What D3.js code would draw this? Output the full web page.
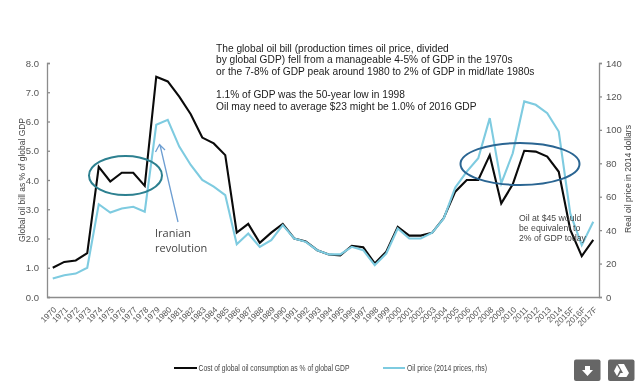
<!DOCTYPE html>
<html>
<head>
<meta charset="utf-8">
<script src="https://cdn.jsdelivr.net/npm/d3@7"></script>
<style>
  html, body { margin: 0; padding: 0; background: #fff; }
  svg { display: block; font-family: "Liberation Sans", Arial, sans-serif; filter: blur(0.45px); }
  .axis path, .axis line { stroke: #8c8c8c; stroke-width: 1.3; }
  .axis text { fill: #555; font-size: 9.5px; }
  .note { fill: #1c1c1c; font-size: 10.2px; }
  .small { fill: #444; font-size: 9px; }
</style>
</head>
<body>
<div id="vis"></div>
<script>
// chart data
const years = ['1970', '1971', '1972', '1973', '1974', '1975', '1976', '1977', '1978', '1979',
  '1980', '1981', '1982', '1983', '1984', '1985', '1986', '1987', '1988', '1989',
  '1990', '1991', '1992', '1993', '1994', '1995', '1996', '1997', '1998', '1999',
  '2000', '2001', '2002', '2003', '2004', '2005', '2006', '2007', '2008', '2009',
  '2010', '2011', '2012', '2013', '2014', '2015F', '2016F', '2017F'];
const oilBill = [1.0, 1.2, 1.25, 1.5, 4.45, 3.95, 4.25, 4.25, 3.8, 7.53,
  7.37, 6.85, 6.25, 5.45, 5.25, 4.85, 2.2, 2.5, 1.85, 2.2,
  2.5, 2.0, 1.9, 1.6, 1.45, 1.42, 1.75, 1.7, 1.15, 1.55,
  2.4, 2.1, 2.1, 2.2, 2.7, 3.6, 4.0, 4.0, 4.85, 3.2,
  3.85, 5.0, 4.97, 4.8, 4.28, 2.3, 1.4, 1.95];
const oilPrice = [11, 13, 14, 17.5, 55.5, 50.5, 53, 54, 51, 103,
  106, 90, 79, 70, 66, 61, 31.5, 38, 30, 34,
  43, 35, 33, 28, 25.5, 25.5, 30, 28, 19, 26,
  41, 35, 35, 38.5, 47, 65.5, 75, 83, 107, 68,
  86, 117, 115, 110, 99, 50, 31, 45];
const leftTicks = [0, 1, 2, 3, 4, 5, 6, 7, 8];
const rightTicks = [0, 20, 40, 60, 80, 100, 120, 140];
const noteLines = [
  'The global oil bill (production times oil price, divided',
  'by global GDP) fell from a manageable 4-5% of GDP in the 1970s',
  'or the 7-8% of GDP peak around 1980 to 2% of GDP in mid/late 1980s',
  '',
  '1.1% of GDP was the 50-year low in 1998',
  'Oil may need to average $23 might be 1.0% of 2016 GDP'
];
const sideNote = ['Oil at $45 would', 'be equivalent to', '2% of GDP today'];

const width = 639;
const height = 389;
const margin = {top: 63, right: 40, bottom: 92, left: 47};

const svg = d3.select('#vis')
  .append('svg')
  .attr('width', width)
  .attr('height', height);

const x = d3.scaleBand()
  .domain(years)
  .range([margin.left, width - margin.right]);
const yLeft = d3.scaleLinear()
  .domain([0, 8])
  .range([height - margin.bottom, margin.top]);
const yRight = d3.scaleLinear()
  .domain([0, 140])
  .range([height - margin.bottom, margin.top]);

// axes
svg.append('g')
  .attr('class', 'axis')
  .attr('transform', 'translate(' + margin.left + ',0)')
  .call(d3.axisLeft(yLeft).tickValues(leftTicks).tickFormat(d3.format('.1f')).tickSize(-3).tickPadding(8));

svg.append('g')
  .attr('class', 'axis')
  .attr('transform', 'translate(' + (width - margin.right) + ',0)')
  .call(d3.axisRight(yRight).tickValues(rightTicks).tickSize(3).tickPadding(4));

const xAxis = svg.append('g')
  .attr('class', 'axis')
  .attr('transform', 'translate(0,' + (height - margin.bottom) + ')')
  .call(d3.axisBottom(x).tickSize(0).tickSizeOuter(0));
xAxis.selectAll('text')
  .attr('transform', 'translate(-2,7)rotate(-45)')
  .style('text-anchor', 'end')
  .style('font-size', '8.2px');

// axis titles
svg.append('text')
  .attr('class', 'small')
  .attr('transform', 'translate(25,180)rotate(-90)')
  .attr('text-anchor', 'middle')
  .attr('textLength', 124)
  .attr('lengthAdjust', 'spacingAndGlyphs')
  .text('Global oil bill as % of global GDP');
svg.append('text')
  .attr('class', 'small')
  .attr('transform', 'translate(630.5,179)rotate(-90)')
  .attr('text-anchor', 'middle')
  .attr('textLength', 108)
  .attr('lengthAdjust', 'spacingAndGlyphs')
  .text('Real oil price in 2014 dollars');

// lines
const lineLeft = d3.line()
  .x((d, i) => x(years[i]) + x.bandwidth() / 2)
  .y(d => yLeft(d));
const lineRight = d3.line()
  .x((d, i) => x(years[i]) + x.bandwidth() / 2)
  .y(d => yRight(d));

svg.append('path')
  .datum(oilBill)
  .attr('fill', 'none')
  .attr('stroke', '#0a0a0a')
  .attr('stroke-width', 2.1)
  .attr('d', lineLeft);
svg.append('path')
  .datum(oilPrice)
  .attr('fill', 'none')
  .attr('stroke', '#7ecbe0')
  .attr('stroke-width', 2.1)
  .attr('d', lineRight);

// annotations
svg.append('ellipse')
  .attr('cx', 125.5).attr('cy', 175.5).attr('rx', 36.5).attr('ry', 19.5)
  .attr('fill', 'none').attr('stroke', '#2d8090').attr('stroke-width', 2);
svg.append('ellipse')
  .attr('cx', 520).attr('cy', 164).attr('rx', 59.5).attr('ry', 21)
  .attr('fill', 'none').attr('stroke', '#2a6592').attr('stroke-width', 2);

svg.append('path')
  .attr('d', 'M178,222L160,145M155.5,152L159.5,144.5L165,150')
  .attr('fill', 'none')
  .attr('stroke', '#6d9ed2')
  .attr('stroke-width', 1.3);
svg.append('text')
  .attr('x', 155).attr('y', 237)
  .attr('fill', '#444')
  .style('font-size', '11px')
  .style('font-family', '"Open Sans", sans-serif')
  .selectAll('tspan')
  .data(['Iranian', 'revolution'])
  .join('tspan')
  .attr('x', 155)
  .attr('dy', (d, i) => i ? 15 : 0)
  .text(d => d);

svg.append('g')
  .selectAll('text')
  .data(noteLines)
  .join('text')
  .attr('class', 'note')
  .attr('x', 216)
  .attr('y', (d, i) => 51.5 + i * 11.7)
  .text(d => d);

svg.append('g')
  .selectAll('text')
  .data(sideNote)
  .join('text')
  .attr('x', 519)
  .attr('y', (d, i) => 221 + i * 10)
  .attr('fill', '#444')
  .style('font-size', '8.7px')
  .text(d => d);

// legend
const legend = svg.append('g');
legend.append('line')
  .attr('x1', 174).attr('x2', 197).attr('y1', 368).attr('y2', 368)
  .attr('stroke', '#0a0a0a').attr('stroke-width', 2);
legend.append('text')
  .attr('x', 198.5).attr('y', 371)
  .attr('class', 'small')
  .attr('textLength', 151)
  .attr('lengthAdjust', 'spacingAndGlyphs')
  .text('Cost of global oil consumption as % of global GDP');
legend.append('line')
  .attr('x1', 383).attr('x2', 405).attr('y1', 368).attr('y2', 368)
  .attr('stroke', '#7ecbe0').attr('stroke-width', 2);
legend.append('text')
  .attr('x', 407).attr('y', 371)
  .attr('class', 'small')
  .attr('textLength', 80)
  .attr('lengthAdjust', 'spacingAndGlyphs')
  .text('Oil price (2014 prices, rhs)');

// the two page buttons in the corner
const buttons = svg.append('g');
[574, 608].forEach((bx) => {
  buttons.append('rect')
    .attr('x', bx).attr('y', 359.5)
    .attr('width', 26.5).attr('height', 21.5)
    .attr('rx', 2)
    .attr('fill', '#666');
});
buttons.append('path')
  .attr('d', 'M585,366h5v4h3l-5.5,6l-5.5,-6h3z')
  .attr('fill', '#fff');
buttons.append('path')
  .attr('d', 'M618,364h6l5,9h-6zM617,365l3,5l-3,6l-3,-5zM618,377l2.5,-4h8.5l-2.5,4z')
  .attr('fill', '#fff');
</script>
</body>
</html>
